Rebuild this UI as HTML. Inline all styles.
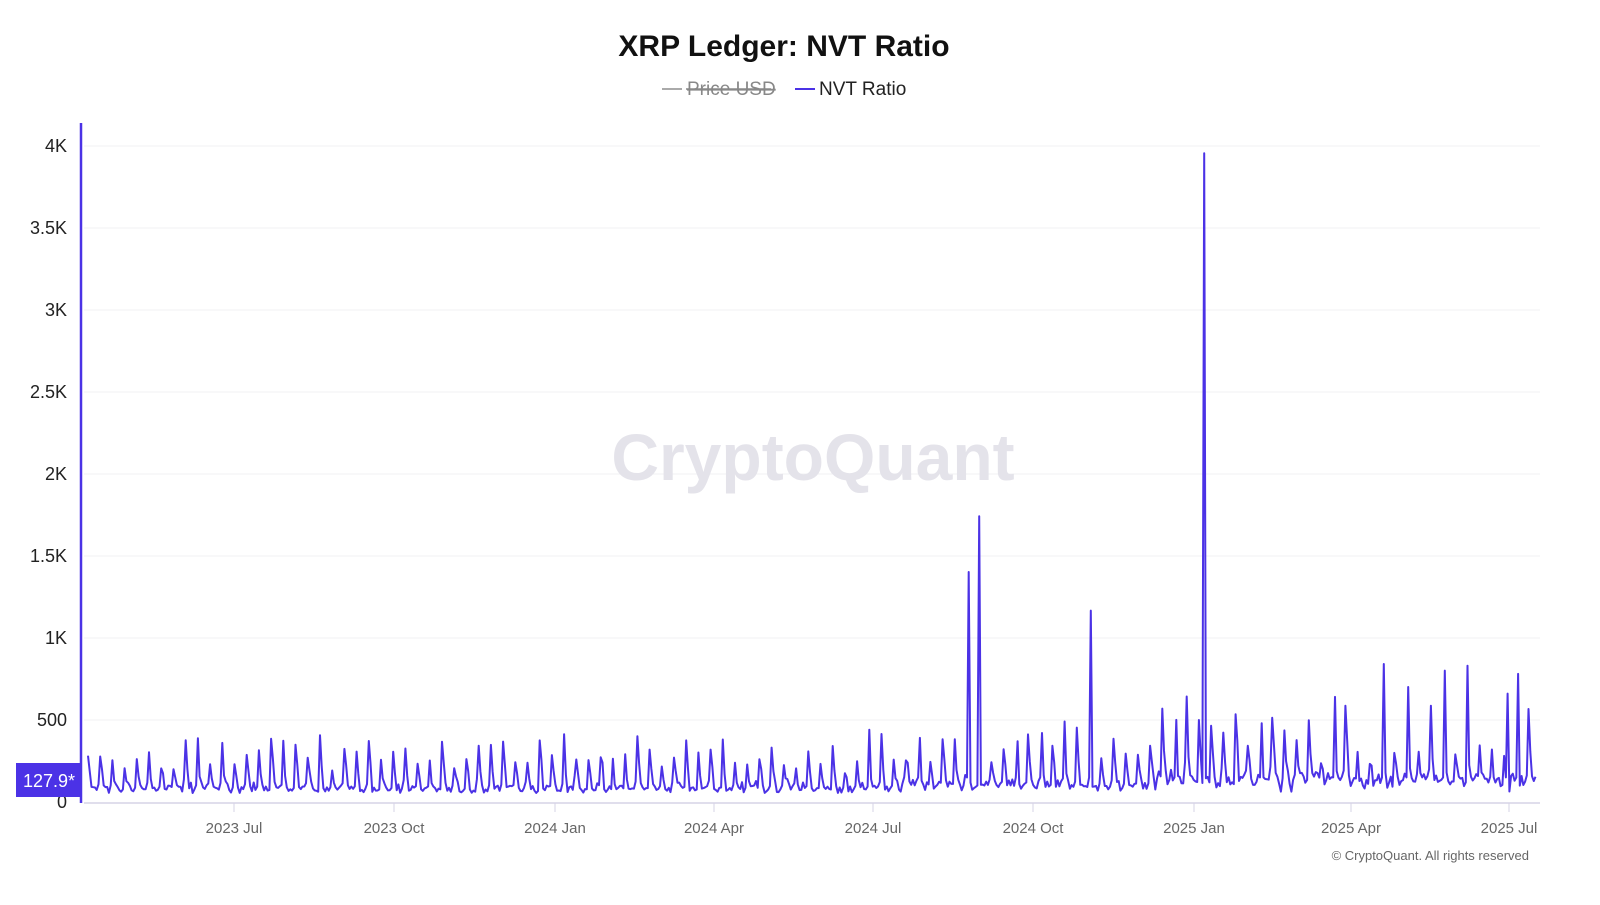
<!DOCTYPE html>
<html><head><meta charset="utf-8"><style>
body{margin:0;background:#fff;width:1600px;height:900px;overflow:hidden;font-family:"Liberation Sans",sans-serif}
</style></head><body>
<svg id="s" width="1600" height="900" xmlns="http://www.w3.org/2000/svg" font-family="Liberation Sans, sans-serif">
<text x="784" y="56" text-anchor="middle" font-size="30" font-weight="bold" fill="#111">XRP Ledger: NVT Ratio</text>
<line x1="662" y1="89" x2="682" y2="89" stroke="#aaa" stroke-width="2"/>
<text x="687" y="95" font-size="19" fill="#888" text-decoration="line-through">Price USD</text>
<line x1="686" y1="89" x2="771" y2="89" stroke="#888" stroke-width="1.5"/>
<line x1="795" y1="89" x2="815" y2="89" stroke="#4b32e6" stroke-width="2"/>
<text x="819" y="95" font-size="19" fill="#222">NVT Ratio</text>
<g stroke="#f0f0f3" stroke-width="1">
<line x1="84" x2="1540" y1="146" y2="146"/><line x1="84" x2="1540" y1="228" y2="228"/>
<line x1="84" x2="1540" y1="310" y2="310"/><line x1="84" x2="1540" y1="392" y2="392"/>
<line x1="84" x2="1540" y1="474" y2="474"/><line x1="84" x2="1540" y1="556" y2="556"/>
<line x1="84" x2="1540" y1="638" y2="638"/><line x1="84" x2="1540" y1="720" y2="720"/>
</g>
<line x1="84" x2="1540" y1="803" y2="803" stroke="#d6d3e6" stroke-width="1.5"/>
<g stroke="#d6d3e6"><line x1="234" x2="234" y1="803" y2="812"/><line x1="394" x2="394" y1="803" y2="812"/><line x1="555" x2="555" y1="803" y2="812"/><line x1="714" x2="714" y1="803" y2="812"/><line x1="873" x2="873" y1="803" y2="812"/><line x1="1033" x2="1033" y1="803" y2="812"/><line x1="1194" x2="1194" y1="803" y2="812"/><line x1="1351" x2="1351" y1="803" y2="812"/><line x1="1509" x2="1509" y1="803" y2="812"/></g>
<g font-size="15" fill="#666" text-anchor="middle"><text x="234" y="833">2023 Jul</text><text x="394" y="833">2023 Oct</text><text x="555" y="833">2024 Jan</text><text x="714" y="833">2024 Apr</text><text x="873" y="833">2024 Jul</text><text x="1033" y="833">2024 Oct</text><text x="1194" y="833">2025 Jan</text><text x="1351" y="833">2025 Apr</text><text x="1509" y="833">2025 Jul</text></g>
<g font-size="18" fill="#222" text-anchor="end"><text x="67" y="152">4K</text><text x="67" y="234">3.5K</text><text x="67" y="316">3K</text><text x="67" y="398">2.5K</text><text x="67" y="480">2K</text><text x="67" y="562">1.5K</text><text x="67" y="644">1K</text><text x="67" y="726">500</text><text x="67" y="808">0</text></g>
<text x="813" y="480" text-anchor="middle" font-size="66" font-weight="bold" fill="#e4e3ea">CryptoQuant</text>
<line x1="81" x2="81" y1="123" y2="803" stroke="#4b32e6" stroke-width="2.5"/>
<rect x="16" y="763" width="66" height="34" fill="#4b32e6"/>
<text x="49" y="787" text-anchor="middle" font-size="18" fill="#fff">127.9*</text>
<polyline id="p" fill="none" stroke="#4b32e6" stroke-width="2" stroke-linejoin="round"/>
<text x="1529" y="860" text-anchor="end" font-size="13" fill="#666">© CryptoQuant. All rights reserved</text>
</svg>
<script>
var seed=11;function r(){seed=(seed*16807)%2147483647;return seed/2147483647;}
var x0=88,x1=1536,dx=1.744,n=Math.floor((x1-x0)/dx)+1,v=[];
for(var i=0;i<n;i++){var x=x0+i*dx;var late=x>1150?1:0,mid=x>900?1:0;
 v.push(55+r()*45+mid*40*r()+late*70*r()+(r()<0.15?40*r():0));}
for(var i=0;i<n;i++){var x=x0+i*dx;var late=x>1150?1:0;
 if(i%7==0){var a=100+r()*230+late*180*r();v[i]+=a;if(i+1<n)v[i+1]+=a*(0.3+0.3*r());if(i>0)v[i-1]+=a*0.15*r();if(i+2<n)v[i+2]+=a*0.1*r();}}
var big={969:1400,980:1740,1090:1165,1205:3950,1383:840,1409:700,1444:800,1468:830,1518:780,1507:660,1335:640,1177:500,1261:480,1065:490,1042:420,1017:370,870:440,920:390};
for(var k in big){var i=Math.round((k-x0)/dx);v[i]=big[k];if(i+1<n)v[i+1]=Math.min(v[i+1],big[k]*0.15+100);if(i-1>=0)v[i-1]=Math.min(v[i-1],150);}
var pts=[];for(var i=0;i<n;i++)pts.push((x0+i*dx).toFixed(1)+","+(802-v[i]*0.16425).toFixed(1));
document.getElementById("p").setAttribute("points",pts.join(" "));
</script>
</body></html>
